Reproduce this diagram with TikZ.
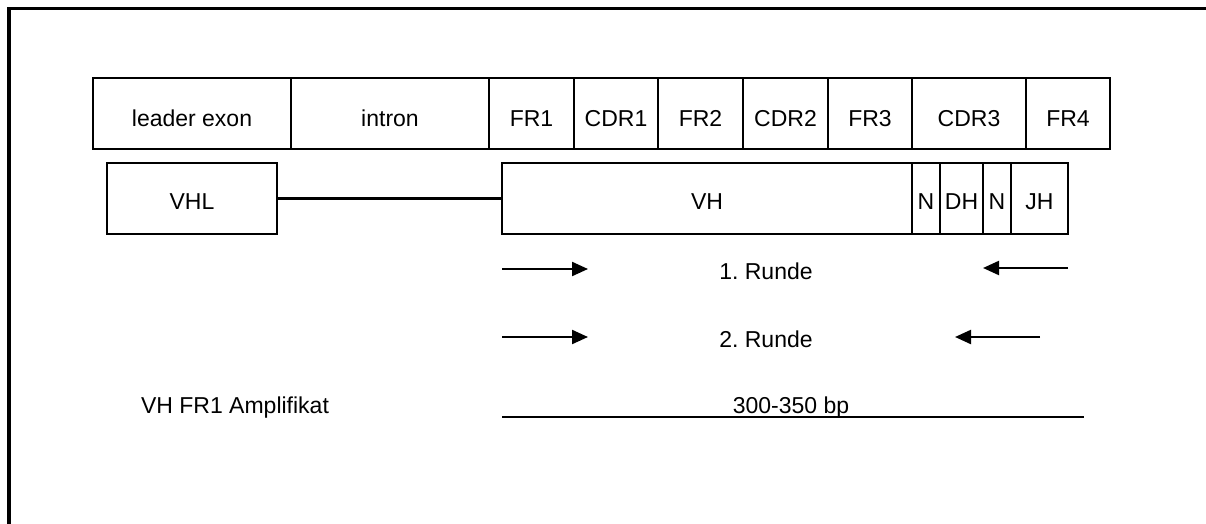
\documentclass[tikz,border=0pt]{standalone}
\usepackage{fontspec}
\setmainfont{Liberation Sans}
\usetikzlibrary{arrows.meta}
\frenchspacing

% one segment box: name, left x, right x, centre y, label
\newcommand{\segbox}[6][seg]{%
  \node[#1, minimum width={(#4-#3)*1pt}] (#2) at ({(#3+#4)/2},#5) {#6};}

\tikzset{
  lbl/.style={font=\fontsize{23pt}{27pt}\selectfont, inner sep=0pt},
  seg/.style={lbl, draw, line width=2.4pt, minimum height=71pt,
              text height=25pt, text depth=0pt},
  gene/.style={seg, text height=21pt},
  primer/.style={line width=2.2pt, -{Triangle[length=16pt,width=14pt]}},
}

\begin{document}
\begin{tikzpicture}[x=1pt,y=-1pt]
\useasboundingbox (0,0) rectangle (1206,524);
\fill[white] (0,0) rectangle (1206,524);

% outer frame (top and left edges)
\draw[line width=3.5pt, line join=miter] (1210,8.5) -- (9,8.5) -- (9,530);

% exon / region bar
\segbox{lead}{93}{291}{113.5}{leader exon}
\segbox{intr}{291}{489}{113.5}{intron}
\segbox{fra}{489}{574}{113.5}{FR1}
\segbox{cdra}{574}{658}{113.5}{CDR1}
\segbox{frb}{658}{743}{113.5}{FR2}
\segbox{cdrb}{743}{828}{113.5}{CDR2}
\segbox{frc}{828}{912}{113.5}{FR3}
\segbox{cdrc}{912}{1026}{113.5}{CDR3}
\segbox{frd}{1026}{1110}{113.5}{FR4}

% rearranged gene segments
\segbox[gene]{vhl}{107}{277}{198.5}{VHL}
\segbox[gene]{vh}{502}{912}{198.5}{VH}
\segbox[gene]{na}{912}{940}{198.5}{N}
\segbox[gene]{dh}{940}{983}{198.5}{DH}
\segbox[gene]{nb}{983}{1011}{198.5}{N}
\segbox[gene]{jh}{1011}{1068}{198.5}{JH}
\draw[line width=2.4pt] (vhl.east) -- (vh.west);

% primer pairs
\coordinate (fa) at (502,269); \coordinate (fb) at (588,269);
\coordinate (ra) at (1068,268); \coordinate (rb) at (983,268);
\coordinate (fc) at (502,337); \coordinate (fd) at (588,337);
\coordinate (rc) at (1040,337); \coordinate (rd) at (955,337);
\draw[primer] (fa) -- (fb);
\draw[primer] (ra) -- (rb);
\draw[primer] (fc) -- (fd);
\draw[primer] (rc) -- (rd);
\node[lbl, anchor=base] (r1) at (766,279) {1. Runde};
\node[lbl, anchor=base] (r2) at (766,347) {2. Runde};

% amplicon
\coordinate (ampa) at (502,417); \coordinate (ampb) at (1084,417);
\draw[line width=2.4pt] (ampa) -- (ampb);
\node[lbl, anchor=base] (bp) at (791,413) {300-350 bp};
\node[lbl, anchor=base] (amp) at (235,413) {VH FR1 Amplifikat};
\end{tikzpicture}
\end{document}
